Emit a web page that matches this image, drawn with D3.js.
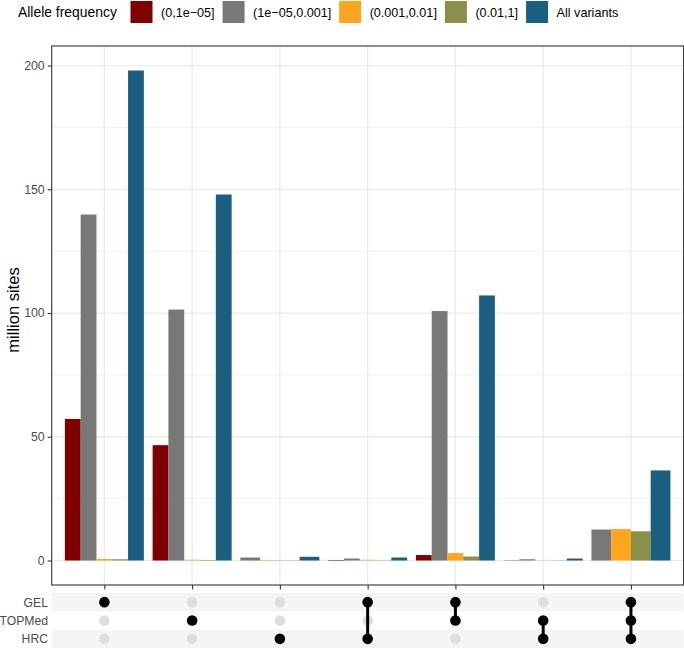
<!DOCTYPE html>
<html>
<head>
<meta charset="utf-8">
<script src="https://cdn.jsdelivr.net/npm/d3@7/dist/d3.min.js"></script>
<style>
  body { margin: 0; background: #fff; }
  svg { display: block; font-family: "Liberation Sans", Arial, Helvetica, sans-serif; }
</style>
</head>
<body>
<svg id="chart" width="684" height="648"></svg>
<script>
// set combinations (x categories) and the sets shown in the matrix
var sets = ["GEL", "TOPMed", "HRC"];
var combos = ["GEL", "TOPMed", "HRC", "GEL&HRC", "GEL&TOPMed", "TOPMed&HRC", "GEL&TOPMed&HRC"];

// allele frequency bins (legend)
var bins = ["(0,1e\u221205]", "(1e\u221205,0.001]", "(0.001,0.01]", "(0.01,1]", "All variants"];
var binColors = ["#7f0000", "#787878", "#ffa51f", "#8a8f49", "#1a5e82"];

// million sites per combination, null = no bar
var af1 = [57.2, 46.6, null, 0.2, 2.2, 0.1, null];
var af2 = [139.8, 101.4, 1.2, 0.8, 100.8, 0.5, 12.5];
var af3 = [0.6, 0.3, 0.2, 0.3, 3.0, 0.1, 12.7];
var af4 = [0.5, 0.2, 0.1, 0.1, 1.6, 0.1, 11.8];
var allVariants = [198, 147.9, 1.5, 1.2, 107.1, 0.8, 36.4];

var yTicks = [0, 50, 100, 150, 200];
var yMinor = [25, 75, 125, 175];

var series = [af1, af2, af3, af4, allVariants];

var svg = d3.select("#chart");

var panelLeft = 51.7, panelRight = 683.6, panelTop = 46, panelBottom = 585;

var x = d3.scalePoint().domain(combos).range([panelLeft, panelRight]).padding(0.6);
var step = x.step();

var maxVal = d3.max(series, function(s) { return d3.max(s); });
var yPad = maxVal * 0.05;
var y = d3.scaleLinear().domain([-yPad, maxVal + yPad]).range([panelBottom, panelTop]);

// build bar list with dodge (only bars that exist share the width)
var bars = [];
combos.forEach(function(c, i) {
	var present = [];
	series.forEach(function(s, j) { if (s[i] != null) present.push(j); });
	var w = step * 0.9 / present.length;
	var start = x(c) - step * 0.45;
	present.forEach(function(j, k) {
		bars.push({ combo: c, bin: j, value: series[j][i], x0: start + k * w, w: w });
	});
});

//GRID
svg.append("g").selectAll("line").data(yMinor).enter()
	.append("line")
	.attr("x1", panelLeft).attr("x2", panelRight)
	.attr("y1", function(d) { return y(d); })
	.attr("y2", function(d) { return y(d); })
	.attr("stroke", "#efefef")
	.attr("stroke-width", 0.8);

svg.append("g").selectAll("line").data(yTicks).enter()
	.append("line")
	.attr("x1", panelLeft).attr("x2", panelRight)
	.attr("y1", function(d) { return y(d); })
	.attr("y2", function(d) { return y(d); })
	.attr("stroke", "#ebebeb")
	.attr("stroke-width", 1.3);

svg.append("g").selectAll("line").data(combos).enter()
	.append("line")
	.attr("x1", function(d) { return x(d); })
	.attr("x2", function(d) { return x(d); })
	.attr("y1", panelTop).attr("y2", panelBottom)
	.attr("stroke", "#ebebeb")
	.attr("stroke-width", 1.3);

//BARS
svg.append("g").selectAll("rect").data(bars).enter()
	.append("rect")
	.attr("x", function(d) { return d.x0; })
	.attr("width", function(d) { return d.w; })
	.attr("y", function(d) { return y(d.value); })
	.attr("height", function(d) { return y(0) - y(d.value); })
	.attr("fill", function(d) { return binColors[d.bin]; });

//PANEL BORDER
svg.append("rect")
	.attr("x", panelLeft).attr("y", panelTop)
	.attr("width", panelRight - panelLeft).attr("height", panelBottom - panelTop)
	.attr("fill", "none")
	.attr("stroke", "#333333")
	.attr("stroke-width", 1.1);

//Y AXIS
var yAxis = d3.axisLeft(y).tickValues(yTicks).tickSize(4).tickPadding(3);
var yg = svg.append("g")
	.attr("transform", "translate(" + panelLeft + ",0)")
	.call(yAxis);
yg.select(".domain").remove();
yg.selectAll(".tick line").attr("stroke", "#333333").attr("stroke-width", 1.1);
yg.selectAll(".tick text")
	.attr("fill", "#4d4d4d")
	.style("font-size", "12.3px")
	.style("font-family", "'Liberation Sans', Arial, sans-serif");

svg.append("text")
	.attr("transform", "translate(18.5," + 310 + ") rotate(-90)")
	.attr("text-anchor", "middle")
	.style("font-size", "16.5px")
	.attr("fill", "#000")
	.text("million sites");

//X AXIS TICKS (no labels)
var xAxis = d3.axisBottom(x).tickSize(4.5).tickFormat("");
var xg = svg.append("g")
	.attr("transform", "translate(0," + panelBottom + ")")
	.call(xAxis);
xg.select(".domain").remove();
xg.selectAll(".tick line").attr("stroke", "#333333").attr("stroke-width", 1.1);

//MATRIX
var row = d3.scaleBand().domain(sets).range([593, 648]);

svg.append("g").selectAll("rect").data(sets.filter(function(d, i) { return i % 2 == 0; })).enter()
	.append("rect")
	.attr("x", panelLeft)
	.attr("y", function(d) { return row(d); })
	.attr("width", panelRight - panelLeft)
	.attr("height", row.bandwidth())
	.attr("fill", "#f5f5f5");

svg.append("g").selectAll("text").data(sets).enter()
	.append("text")
	.attr("x", 48)
	.attr("y", function(d) { return row(d) + row.bandwidth() / 2; })
	.attr("dy", "0.36em")
	.attr("text-anchor", "end")
	.attr("fill", "#4d4d4d")
	.style("font-size", "12.2px")
	.text(function(d) { return d; });

var dots = [];
combos.forEach(function(c) {
	var members = c.split("&");
	sets.forEach(function(s) {
		dots.push({ combo: c, set: s, on: members.indexOf(s) >= 0 });
	});
});

svg.append("g").selectAll("circle").data(dots.filter(function(d) { return !d.on; })).enter()
	.append("circle")
	.attr("cx", function(d) { return x(d.combo); })
	.attr("cy", function(d) { return row(d.set) + row.bandwidth() / 2; })
	.attr("r", 5.3)
	.attr("fill", "#dedede");

svg.append("g").selectAll("line").data(combos.filter(function(c) { return c.split("&").length > 1; })).enter()
	.append("line")
	.attr("x1", function(d) { return x(d); })
	.attr("x2", function(d) { return x(d); })
	.attr("y1", function(d) {
		return d3.min(d.split("&"), function(s) { return row(s); }) + row.bandwidth() / 2; })
	.attr("y2", function(d) {
		return d3.max(d.split("&"), function(s) { return row(s); }) + row.bandwidth() / 2; })
	.attr("stroke", "#000")
	.attr("stroke-width", 3);

svg.append("g").selectAll("circle").data(dots.filter(function(d) { return d.on; })).enter()
	.append("circle")
	.attr("cx", function(d) { return x(d.combo); })
	.attr("cy", function(d) { return row(d.set) + row.bandwidth() / 2; })
	.attr("r", 5.3)
	.attr("fill", "#000");

//LEGEND
var legend = svg.append("g");
var title = legend.append("text")
	.attr("x", 18).attr("y", 12)
	.attr("dy", "0.36em")
	.style("font-size", "13.9px")
	.text("Allele frequency");
var lx = 130.5;
bins.forEach(function(b, i) {
	legend.append("rect")
		.attr("x", lx).attr("y", 1)
		.attr("width", 22).attr("height", 22)
		.attr("fill", binColors[i]);
	var t = legend.append("text")
		.attr("x", lx + 30.5).attr("y", 12)
		.attr("dy", "0.36em")
		.style("font-size", "12.6px")
		.text(b);
	lx = lx + 30.5 + t.node().getComputedTextLength() + 8;
});
</script>
</body>
</html>
